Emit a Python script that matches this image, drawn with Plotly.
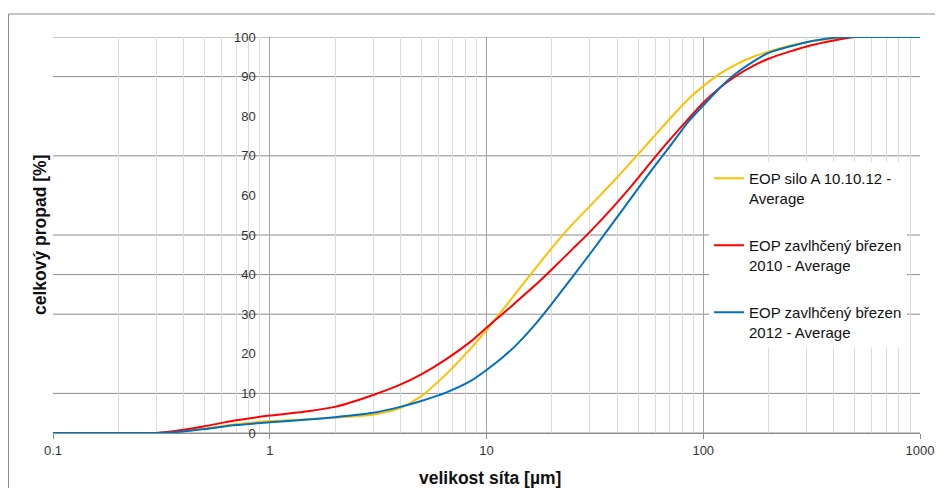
import plotly.graph_objects as go

# sieve sizes [µm]
sizes = [0.1, 0.2, 0.3, 0.4, 0.5, 0.7, 1, 1.5, 2, 3, 4, 5, 6.5, 8.5, 10, 12, 14, 17, 20, 25,
         30, 38, 47, 58, 70, 85, 100, 120, 140, 170, 200, 250, 300, 400, 500, 1000]

silo_a = [0, 0, 0, 0.5, 1.1, 2.2, 3.0, 3.5, 3.9, 4.6, 6.3, 9.3, 14.8, 21.5, 26.0, 31.4, 36.1, 41.9, 46.7, 52.8,
          57.3, 63.2, 68.7, 74.3, 79.3, 84.2, 87.6, 90.8, 92.9, 95.0, 96.3, 97.8, 98.7, 99.6, 100, 100]
brezen_2010 = [0, 0, 0, 0.8, 1.7, 3.2, 4.4, 5.5, 6.6, 9.6, 12.2, 14.8, 18.6, 23.2, 26.6, 30.3, 33.5, 37.6, 41.3, 46.5,
               50.8, 56.8, 62.6, 68.7, 74.0, 79.2, 83.4, 87.3, 90.0, 92.7, 94.5, 96.3, 97.6, 99.1, 100, 100]
brezen_2012 = [0, 0, 0, 0.4, 1.0, 2.0, 2.7, 3.4, 4.0, 5.1, 6.6, 8.1, 10.2, 13.2, 15.9, 19.3, 22.7, 27.8, 32.6, 39.5,
               45.2, 52.8, 59.7, 66.5, 72.3, 78.5, 82.7, 87.3, 90.6, 93.8, 96.0, 97.6, 98.7, 99.8, 100, 100]

series_names = ["EOP silo A 10.10.12 -<br>Average",
                "EOP zavlhčený březen<br>2010 - Average",
                "EOP zavlhčený březen<br>2012 - Average"]
series_colors = ["#FFC000", "#FF0000", "#0070C0"]

x_tickvals = [0.1, 1, 10, 100, 1000]
x_ticktext = ["0.1", "1", "10", "100", "1000"]
x_minor_vals = [m * 10.0 ** k for k in range(-1, 3) for m in range(2, 10)]
y_tickvals = [0, 10, 20, 30, 40, 50, 60, 70, 80, 90, 100]
y_gridvals = [0, 10, 30, 40, 50, 70, 90, 100]

FONT = "Liberation Sans"
W, H = 935, 480
L, R, T, B = 45, 23, 29, 55
PW, PH = W - L - R, H - T - B


def px(xp):
    return (xp - L) / PW


def py(yp):
    return (H - B - yp) / PH


fig = go.Figure()
for i, (ys, name, col) in enumerate(zip([silo_a, brezen_2010, brezen_2012], series_names, series_colors)):
    fig.add_trace(go.Scatter(x=sizes, y=ys, name=name, mode="lines",
                             line=dict(color=col, width=2, shape="spline", smoothing=0.6),
                             legendgroup=f"g{i}"))

for v in y_gridvals:
    fig.add_shape(type="line", xref="x domain", yref="y", x0=0, x1=1, y0=v, y1=v,
                  line=dict(color="#8C8C8C", width=1), layer="below")

# outer chart border
fig.add_shape(type="rect", xref="paper", yref="paper", x0=px(0.5), x1=px(932), y0=py(520), y1=py(6),
              line=dict(color="#8C8C8C", width=1), layer="below")

fig.update_layout(
    width=W, height=H,
    margin=dict(l=L, r=R, t=T, b=B, autoexpand=False),
    paper_bgcolor="white", plot_bgcolor="white",
    font=dict(family=FONT, size=13, color="#222"),
    showlegend=True,
    legend=dict(x=px(701), y=py(154), xanchor="left", yanchor="top",
                bgcolor="white", borderwidth=0, font=dict(family=FONT, size=15, color="#111"),
                valign="top", traceorder="grouped", tracegroupgap=25, itemwidth=30),
    xaxis=dict(type="log", range=[-1, 3], tickvals=x_tickvals, ticktext=x_ticktext,
               showgrid=True, gridcolor="#A6A6A6", gridwidth=1,
               minor=dict(tickvals=x_minor_vals, showgrid=True, gridcolor="#DCDCDC", gridwidth=1, ticks=""),
               showline=True, linecolor="#8C8C8C", ticks="outside", ticklen=5, tickcolor="#8C8C8C",
               tickfont=dict(family=FONT, size=13, color="#333"), zeroline=False),
    yaxis=dict(range=[0, 100], tickvals=y_tickvals, showgrid=False, zeroline=False,
               anchor="free", position=0.25, showline=False, ticks="",
               ticklabelstandoff=14,
               tickfont=dict(family=FONT, size=13, color="#333")),
    annotations=[
        dict(text="<b>velikost síta [µm]</b>", xref="paper", yref="paper",
             x=px(482), y=py(470), xanchor="center", yanchor="middle", showarrow=False,
             font=dict(family=FONT, size=17.5, color="#111")),
        dict(text="<b>celkový propad [%]</b>", xref="paper", yref="paper",
             x=px(32), y=0.5, xanchor="center", yanchor="middle", showarrow=False, textangle=-90,
             font=dict(family=FONT, size=17.5, color="#111")),
    ],
)

fig.write_html("out.html")
